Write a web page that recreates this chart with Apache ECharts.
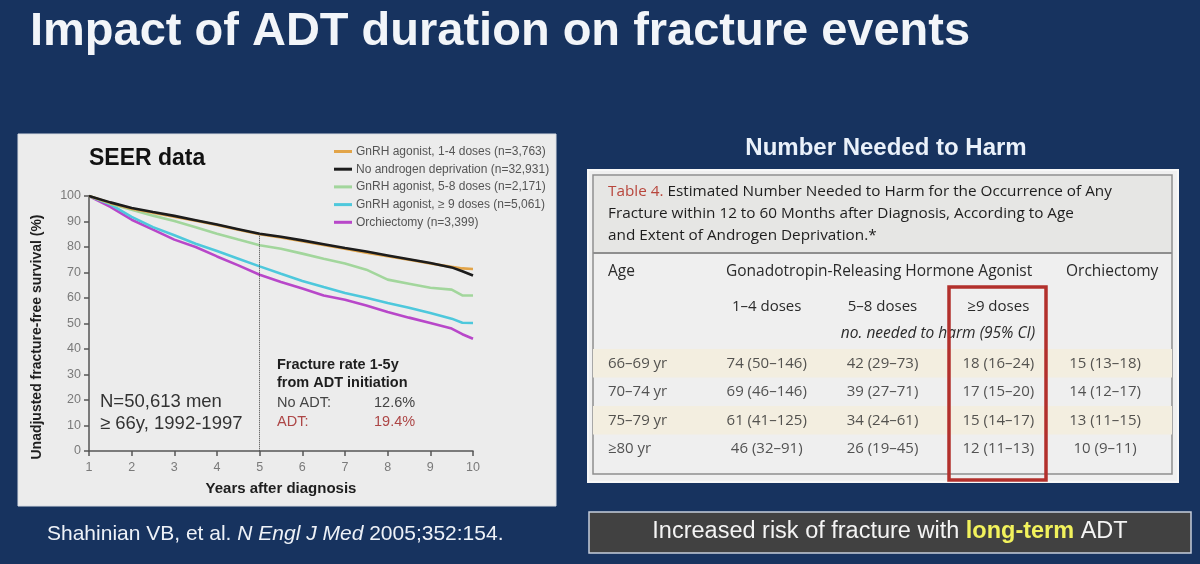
<!DOCTYPE html>
<html>
<head>
<meta charset="utf-8">
<script src="https://cdn.jsdelivr.net/npm/echarts@6/dist/echarts.min.js"></script>
<style>
html,body{margin:0;padding:0;background:#17335f;}
#chart{width:1200px;height:564px;}
</style>
</head>
<body>
<div id="chart"></div>
<script>
// ---------- Kaplan-Meier curve data ----------
const years = [1,1.5,2,2.5,3,3.5,4,4.5,5,5.5,6,6.5,7,7.5,8,8.5,9,9.5,9.75,10];
const gnrh14 = [100,97.3,95.0,93.4,91.9,90.3,88.6,86.8,85.0,83.7,82.3,80.8,79.3,77.8,76.4,75.0,73.5,72.2,71.6,71.4];
const noAdt  = [100,97.5,95.3,93.7,92.2,90.5,88.8,87.0,85.2,84.0,82.6,81.1,79.6,78.2,76.7,75.2,73.7,72.0,70.5,68.8];
const gnrh58 = [100,97.0,94.6,92.3,90.2,87.7,85.2,82.9,80.7,79.3,77.4,75.4,73.5,71.1,67.2,65.6,64.0,63.3,61.0,61.0];
const gnrh9  = [100,96.7,91.8,87.8,84.6,81.3,78.4,75.4,72.4,69.5,66.7,64.3,62.0,60.1,58.0,56.2,54.1,51.9,50.3,50.2];
const orchi  = [100,95.7,90.7,86.8,82.9,80.0,76.3,72.8,69.1,66.3,63.7,61.0,59.3,57.1,54.5,52.3,50.2,48.0,45.8,44.0];
const seriesNames = [
  'GnRH agonist, 1-4 doses (n=3,763)',
  'No androgen deprivation (n=32,931)',
  'GnRH agonist, 5-8 doses (n=2,171)',
  'GnRH agonist, \u2265 9 doses (n=5,061)',
  'Orchiectomy (n=3,399)'
];
const markYear = 5;
const markValue = 85.2;

// ---------- Table 4 data ----------
const ageGroups = ['66\u201369 yr','70\u201374 yr','75\u201379 yr','\u226580 yr'];
const tableCols = ['Age','1\u20134 doses','5\u20138 doses','\u22659 doses','Orchiectomy'];
const nnh14 = [74,69,61,46], lo14 = [50,46,41,32], hi14 = [146,146,125,91];
const nnh58 = [42,39,34,26], lo58 = [29,27,24,19], hi58 = [73,71,61,45];
const nnh9  = [18,17,15,12], lo9  = [16,15,14,11], hi9  = [24,20,17,13];
const nnhO  = [15,14,13,10], loO  = [13,12,11,9],  hiO  = [18,17,15,11];

const chart = echarts.init(document.getElementById('chart'));

const narrow = "'Liberation Sans Narrow','Arial Narrow','Liberation Sans',sans-serif";
const arial = "'Liberation Sans',Arial,sans-serif";
const tfont = "'Open Sans',Lato,sans-serif";

function pts(arr){ return years.map((x,i)=>[x,arr[i]]); }
function cell(col, nnh, lo, hi){ return nnh.map((v,i)=>[col, i, v + ' (' + lo[i] + '\u2013' + hi[i] + ')']); }

const lineColors = ['#e2a448','#1c1c1c','#a2d69c','#4ec8dc','#b847c9'];
const lineData = [gnrh14, noAdt, gnrh58, gnrh9, orchi];
const drawOrder = [4,3,2,0,1];

const lineSeries = drawOrder.map(k => {
  const s = {
    name: seriesNames[k], type:'line', xAxisIndex:0, yAxisIndex:0,
    data: pts(lineData[k]), showSymbol:false, symbol:'none',
    lineStyle:{color:lineColors[k], width:2.6}, itemStyle:{color:lineColors[k]},
    silent:true, z:3
  };
  if (k === 1) {
    s.markLine = {
      silent:true, symbol:['none','none'], label:{show:false},
      lineStyle:{type:'dotted', color:'#444', width:1},
      data:[[{coord:[markYear, markValue]},{coord:[markYear, 0]}]]
    };
  }
  return s;
});

function tableSeries(col, nnh, lo, hi, offset){
  return {
    type:'scatter', xAxisIndex:1, yAxisIndex:1, symbolSize:0, silent:true,
    data: cell(col, nnh, lo, hi),
    label:{show:true, position:'inside', formatter:p=>p.data[2],
      color:'#2a2a2a', fontFamily:tfont, fontSize:15, offset:offset||[0,0]}
  };
}

const option = {
  backgroundColor:'#17335f',
  animation:false,
  grid:[
    {left:89, top:196, width:384, height:255},
    {left:593, top:349, width:579, height:114}
  ],
  xAxis:[
    {type:'value', gridIndex:0, min:1, max:10, interval:1,
     axisLine:{show:true, lineStyle:{color:'#555', width:1.5}},
     axisTick:{show:true, length:5, lineStyle:{color:'#555', width:1.5}},
     axisLabel:{color:'#7a7a7a', fontFamily:narrow, fontSize:12.5, margin:10},
     splitLine:{show:false},
     name:'Years after diagnosis', nameLocation:'middle', nameGap:30,
     nameTextStyle:{color:'#1e1e1e', fontWeight:'bold', fontSize:15, fontFamily:arial}},
    {type:'category', gridIndex:1, data:tableCols, position:'top',
     axisLine:{show:false}, axisTick:{show:false},
     axisLabel:{margin:35, color:'#2a2a2a', fontFamily:tfont, fontSize:15,
       formatter:(v,i)=> (i>=1 && i<=3) ? v : ''}}
  ],
  yAxis:[
    {type:'value', gridIndex:0, min:0, max:100, interval:10,
     axisLine:{show:true, lineStyle:{color:'#555', width:1.5}},
     axisTick:{show:true, length:5, lineStyle:{color:'#555', width:1.5}},
     axisLabel:{color:'#7a7a7a', fontFamily:narrow, fontSize:12.5, margin:8},
     splitLine:{show:false}},
    {type:'category', gridIndex:1, data:ageGroups, inverse:true,
     axisLine:{show:false}, axisTick:{show:false}, axisLabel:{show:false},
     splitLine:{show:false},
     splitArea:{show:true, areaStyle:{color:['#f3eee0','rgba(0,0,0,0)']}}}
  ],
  legend:{
    orient:'vertical', left:329, top:140, itemWidth:18, itemHeight:3, icon:'rect',
    itemGap:4.7, data:seriesNames, selectedMode:false,
    textStyle:{color:'#555', fontFamily:narrow, fontSize:12, lineHeight:13, padding:[0,0,0,-1]}
  },
  series: lineSeries.concat([
    {type:'scatter', xAxisIndex:1, yAxisIndex:1, symbolSize:0, silent:true,
     data: ageGroups.map((a,i)=>[0,i,a]),
     label:{show:true, position:'inside', align:'left', formatter:p=>p.data[2],
       color:'#2a2a2a', fontFamily:tfont, fontSize:15, offset:[-43,0]}},
    tableSeries(1, nnh14, lo14, hi14),
    tableSeries(2, nnh58, lo58, hi58),
    tableSeries(3, nnh9, lo9, hi9),
    tableSeries(4, nnhO, loO, hiO, [-9,0])
  ]),
  graphic:[
    // title
    {type:'text', z:10, style:{x:30, y:32, text:'Impact of ADT duration on fracture events',
      fill:'#f2f5f9', font:'bold 47px ' + arial, verticalAlign:'middle'}},
    // left panel
    {type:'rect', shape:{x:18, y:134, width:538, height:372}, z:-10,
     style:{fill:'#ececec', stroke:'#d8dde4', lineWidth:1}},
    {type:'text', z:10, style:{x:89, y:159, text:'SEER data', fill:'#111',
      font:'bold 23px ' + arial, verticalAlign:'middle'}},
    {type:'text', z:10, rotation:Math.PI/2, x:37, y:337,
      style:{x:0, y:0, text:'Unadjusted fracture-free survival (%)', fill:'#1e1e1e',
      font:'bold 14px ' + arial, align:'center', verticalAlign:'middle'}},
    {type:'text', z:10, style:{x:100, y:402, text:'N=50,613 men', fill:'#333',
      font:'18.5px ' + arial, verticalAlign:'middle'}},
    {type:'text', z:10, style:{x:100, y:424, text:'\u2265 66y, 1992-1997', fill:'#333',
      font:'18.5px ' + arial, verticalAlign:'middle'}},
    {type:'text', z:10, style:{x:277, y:365, text:'Fracture rate 1-5y', fill:'#1e1e1e',
      font:'bold 14.5px ' + arial, verticalAlign:'middle'}},
    {type:'text', z:10, style:{x:277, y:383, text:'from ADT initiation', fill:'#1e1e1e',
      font:'bold 14.5px ' + arial, verticalAlign:'middle'}},
    {type:'text', z:10, style:{x:277, y:403, text:'No ADT:', fill:'#444',
      font:'14.5px ' + arial, verticalAlign:'middle'}},
    {type:'text', z:10, style:{x:374, y:403, text:'12.6%', fill:'#444',
      font:'14.5px ' + arial, verticalAlign:'middle'}},
    {type:'text', z:10, style:{x:277, y:422, text:'ADT:', fill:'#ad4646',
      font:'14.5px ' + arial, verticalAlign:'middle'}},
    {type:'text', z:10, style:{x:374, y:422, text:'19.4%', fill:'#ad4646',
      font:'14.5px ' + arial, verticalAlign:'middle'}},
    // right heading
    {type:'text', z:10, style:{x:886, y:148, text:'Number Needed to Harm', fill:'#eaf1fa',
      font:'bold 24px ' + arial, align:'center', verticalAlign:'middle'}},
    // table frame
    {type:'rect', z:-10, shape:{x:588, y:170, width:590, height:312},
     style:{fill:'#f0f0f0', stroke:'#f8f8f8', lineWidth:2}},
    {type:'rect', z:-9, shape:{x:593, y:175, width:579, height:299},
     style:{fill:'#efefef', stroke:'#8e8e8e', lineWidth:1.5}},
    {type:'rect', z:-8, shape:{x:594, y:176, width:577, height:76},
     style:{fill:'#e6e6e4'}},
    {type:'line', z:-7, shape:{x1:593, y1:253, x2:1172, y2:253},
     style:{stroke:'#8e8e8e', lineWidth:2}},
    {type:'text', z:10, style:{x:608, y:192,
      text:'{r|Table 4.} Estimated Number Needed to Harm for the Occurrence of Any',
      fill:'#1e1e1e', font:'15.3px ' + tfont, verticalAlign:'middle',
      rich:{r:{fill:'#b8463c', font:'15.3px ' + tfont}}}},
    {type:'text', z:10, style:{x:608, y:214,
      text:'Fracture within 12 to 60 Months after Diagnosis, According to Age',
      fill:'#1e1e1e', font:'15.3px ' + tfont, verticalAlign:'middle'}},
    {type:'text', z:10, style:{x:608, y:236,
      text:'and Extent of Androgen Deprivation.*',
      fill:'#1e1e1e', font:'15.3px ' + tfont, verticalAlign:'middle'}},
    {type:'text', z:10, style:{x:608, y:272, text:'Age', fill:'#2a2a2a',
      font:'15.5px ' + tfont, verticalAlign:'middle'}},
    {type:'text', z:10, style:{x:726, y:272, text:'Gonadotropin-Releasing Hormone Agonist', fill:'#2a2a2a',
      font:'15.5px ' + tfont, verticalAlign:'middle'}},
    {type:'text', z:10, style:{x:1066, y:272, text:'Orchiectomy', fill:'#2a2a2a',
      font:'15.5px ' + tfont, verticalAlign:'middle'}},
    {type:'text', z:10, style:{x:938, y:334, text:'no. needed to harm (95% CI)', fill:'#2a2a2a',
      font:'italic 15.5px ' + tfont, align:'center', verticalAlign:'middle'}},
    // red highlight box
    {type:'rect', z:100, shape:{x:949, y:287, width:97, height:193},
     style:{fill:'none', stroke:'#b2302c', lineWidth:3.5}},
    // citation
    {type:'text', z:10, style:{x:47, y:534,
      text:'Shahinian VB, et al. {i|N Engl J Med} 2005;352:154.',
      fill:'#eef2f8', font:'21px ' + arial, verticalAlign:'middle',
      rich:{i:{fill:'#eef2f8', font:'italic 21px ' + arial}}}},
    // bottom message box
    {type:'rect', z:5, shape:{x:589, y:512, width:602, height:41},
     style:{fill:'#414141', stroke:'#c6cedb', lineWidth:1.5}},
    {type:'text', z:10, style:{x:890, y:532,
      text:'Increased risk of fracture with {y|long-term} ADT',
      fill:'#f4f4f4', font:'23.5px ' + arial, align:'center', verticalAlign:'middle',
      rich:{y:{fill:'#f2f25c', font:'bold 23.5px ' + arial}}}}
  ]
};
chart.setOption(option);
</script>
</body>
</html>
